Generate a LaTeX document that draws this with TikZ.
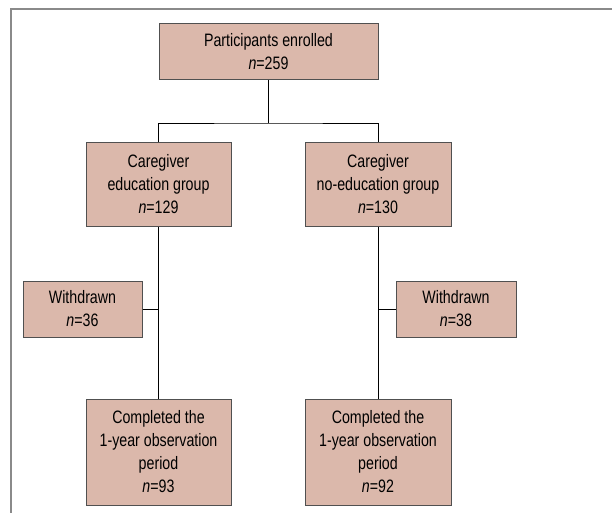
\documentclass[tikz,border=0pt]{standalone}
\usepackage{fontspec}
\setmainfont[FakeStretch=0.79]{Liberation Sans}
\definecolor{boxfill}{HTML}{DBB8AB}
\definecolor{boxline}{HTML}{505050}
\definecolor{frameline}{HTML}{8A8A8A}
\usetikzlibrary{positioning}

\begin{document}
\begin{tikzpicture}[x=1pt,y=-1pt,
    every node/.style={draw=boxline,line width=1pt,fill=boxfill,align=center,inner sep=0pt,
      font=\fontsize{18}{23}\selectfont},
    link/.style={draw=black,line width=0.8pt}]
        \useasboundingbox (0,0) rectangle (612,513);
        \draw [frameline,line width=1.5pt] (11,513) -- (11,9) -- (612,9);

        \node [minimum width=219pt,minimum height=56pt] (enrolled) at (268.5,52) {Participants enrolled\\\textit{n}=259};
        \node [minimum width=145pt,minimum height=83pt] (edu) at (158.5,184.5) {Caregiver\\education group\\\textit{n}=129};
        \node [minimum width=146pt,minimum height=83pt] (noedu) at (378,184.5) {Caregiver\\no-education group\\\textit{n}=130};
        \node [minimum width=119pt,minimum height=56pt] (out1) at (82.5,309) {Withdrawn\\\textit{n}=36};
        \node [minimum width=120pt,minimum height=56pt] (out2) at (456,309) {Withdrawn\\\textit{n}=38};
        \node [minimum width=145pt,minimum height=106pt] (done1) at (158.5,452) {Completed the\\1-year observation\\period\\\textit{n}=93};
        \node [minimum width=146pt,minimum height=106pt] (done2) at (378,452) {Completed the\\1-year observation\\period\\\textit{n}=92};
        \coordinate (split) at (268.5,123);

        \path [link] (enrolled.south) -- (split);
        \path [link] (edu.north) |- (split) -| (noedu.north);
        \path [link] (edu.south) -- (done1.north);
        \path [link] (noedu.south) -- (done2.north);
        \path [link] (out1.east) -- (out1.east -| edu.south);
        \path [link] (out2.west) -- (out2.west -| noedu.south);
    \end{tikzpicture}
\end{document}
